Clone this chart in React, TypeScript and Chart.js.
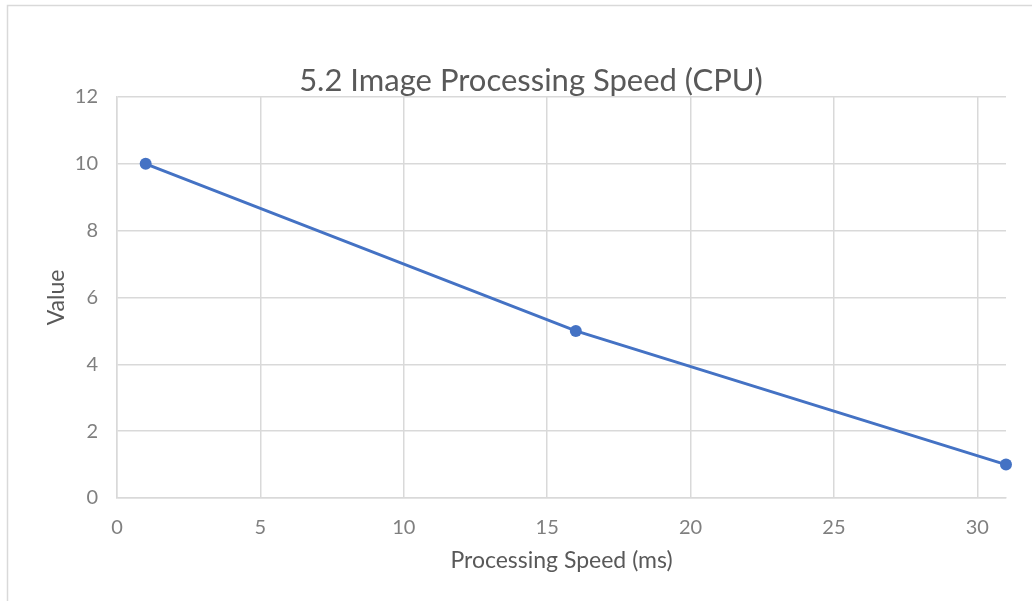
import React, { useEffect, useRef } from "react";
import { Chart, registerables } from "chart.js";

Chart.register(...registerables);

const chartTitle = "5.2 Image Processing Speed (CPU)";
const xAxisTitle = "Processing Speed (ms)";
const yAxisTitle = "Value";
const speedX = [1, 16, 31];
const values = [10, 5, 1];
const xTickValues = [0, 5, 10, 15, 20, 25, 30];
const xMin = 0;
const xMax = 31;
const yMin = 0;
const yMax = 12;
const yStep = 2;

const FONT = "Lato, 'Open Sans', sans-serif";
const GRID = "#d9d9d9";
const TEXT = "#595959";
const TICK = "#7f7f7f";
const LINE = "#4472c4";

const framePlugin = {
  id: "frame",
  beforeDraw(chart: any) {
    const { ctx, width, height } = chart;
    ctx.save();
    ctx.fillStyle = "#ffffff";
    ctx.fillRect(0, 0, width, height);
    ctx.strokeStyle = "#d9d9d9";
    ctx.lineWidth = 1.5;
    ctx.strokeRect(7.5, 5.5, width + 10, height + 10);
    ctx.restore();
  },
  afterDraw(chart: any) {
    const { ctx } = chart;
    ctx.save();
    ctx.fillStyle = TEXT;
    ctx.font = `31px ${FONT}`;
    ctx.textAlign = "center";
    ctx.textBaseline = "alphabetic";
    ctx.fillText(chartTitle, 531, 91);
    ctx.restore();
  },
};

export default function App() {
  const ref = useRef<HTMLCanvasElement | null>(null);

  useEffect(() => {
    document.body.style.margin = "0";
    const canvas = ref.current;
    if (!canvas) return;
    const chart = new Chart(canvas, {
      type: "scatter",
      data: {
        datasets: [
          {
            label: yAxisTitle,
            data: speedX.map((x, i) => ({ x, y: values[i] })),
            showLine: true,
            borderColor: LINE,
            backgroundColor: LINE,
            borderWidth: 3,
            pointRadius: 6,
            pointHoverRadius: 6,
            pointBorderWidth: 0,
            tension: 0,
            clip: false,
          },
        ],
      },
      options: {
        responsive: false,
        animation: false,
        layout: { padding: { left: 0, right: 26, top: 97, bottom: 0 } },
        plugins: {
          legend: { display: false },
          tooltip: { enabled: false },
          title: { display: false },
        },
        scales: {
          x: {
            type: "linear",
            min: xMin,
            max: xMax,
            afterBuildTicks(scale: any) {
              scale.ticks = xTickValues.map((v) => ({ value: v }));
            },
            afterFit(scale: any) {
              scale.height = 103;
            },
            ticks: {
              color: TICK,
              padding: 18,
              font: { family: FONT, size: 20 },
            },
            grid: { color: GRID, lineWidth: 1.5, drawTicks: false },
            border: { color: GRID, width: 1.5 },
            title: {
              display: true,
              text: xAxisTitle,
              color: TEXT,
              font: { family: FONT, size: 23 },
              padding: { top: 0, bottom: 27 },
            },
          },
          y: {
            type: "linear",
            min: yMin,
            max: yMax,
            afterFit(scale: any) {
              scale.width = 117;
            },
            ticks: {
              stepSize: yStep,
              color: TICK,
              padding: 19,
              font: { family: FONT, size: 20 },
            },
            grid: { color: GRID, lineWidth: 1.5, drawTicks: false },
            border: { color: GRID, width: 1.5 },
            title: {
              display: true,
              text: yAxisTitle,
              color: TEXT,
              font: { family: FONT, size: 23 },
              padding: { top: 43, bottom: 0 },
            },
          },
        },
      },
      plugins: [framePlugin],
    });
    return () => chart.destroy();
  }, []);

  return (
    <div style={{ width: 1032, height: 601 }}>
      <canvas ref={ref} width={1032} height={601} style={{ display: "block" }} />
    </div>
  );
}
